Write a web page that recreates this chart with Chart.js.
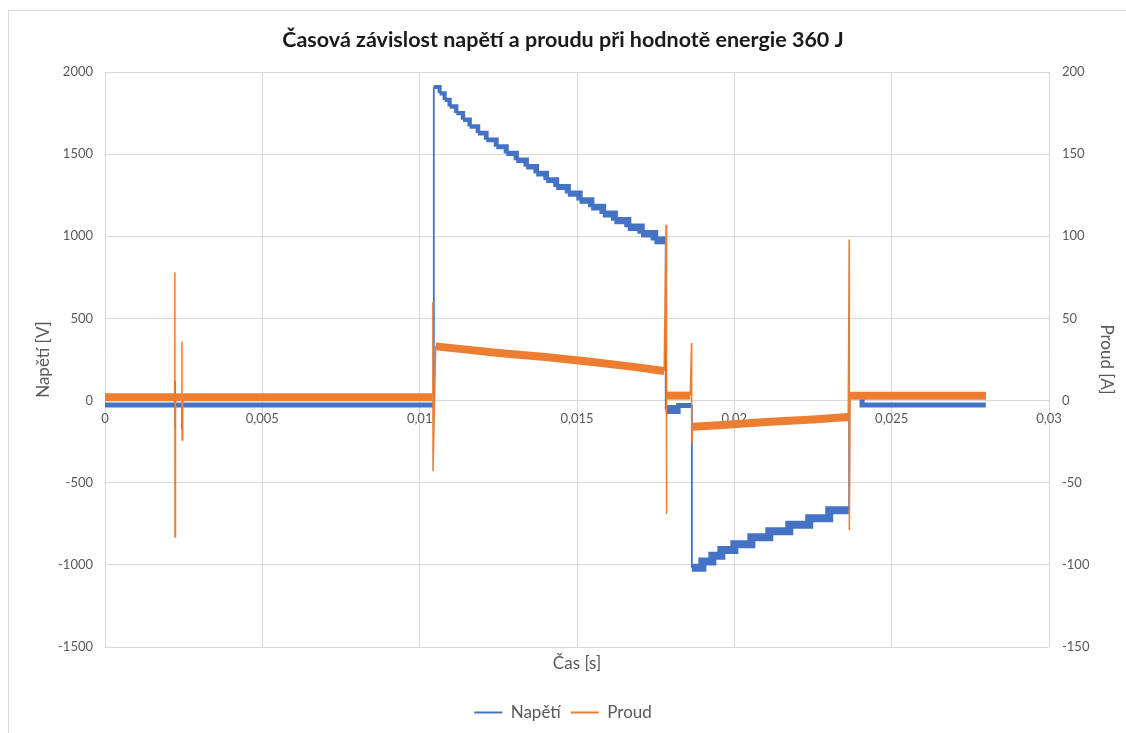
<!DOCTYPE html>
<html>
<head>
<meta charset="utf-8">
<title>Časová závislost napětí a proudu</title>
<script src="https://cdn.jsdelivr.net/npm/chart.js@4.4.1/dist/chart.umd.min.js"></script>
<style>
  html, body { margin: 0; padding: 0; background: #fff; overflow: hidden; }
  #frame { position: absolute; left: 8px; top: 10px; width: 1200px; height: 800px; border: 1px solid #d9d9d9; }
  #wrap { position: absolute; left: 0; top: 0; width: 1126px; height: 733px; }
</style>
</head>
<body>
<div id="frame"></div>
<div id="wrap"><canvas id="chart"></canvas></div>
<script>
// ===== Data =====
// Napětí [V] – stepped waveform, each point starts a new level
const casNapeti = [
    0, 0.00221, 0.00222, 0.002225, 0.00223, 0.00244, 0.002445, 0.00245,
    0.01044, 0.01045, 0.010635, 0.010794, 0.010952, 0.011164, 0.011376, 0.011587,
    0.011852, 0.012116, 0.012434, 0.012751, 0.013069, 0.013386, 0.013704, 0.014021,
    0.014339, 0.014709, 0.015079, 0.015450, 0.015820, 0.016190, 0.016614, 0.017037,
    0.017460, 0.01781, 0.01782, 0.01815, 0.01864, 0.01865, 0.018984, 0.019302,
    0.019587, 0.0200, 0.02054, 0.021111, 0.021746, 0.022381, 0.023016, 0.02364,
    0.02365, 0.02406, 0.02799
];
const napeti = [
    -27, -27, 115, -160, -27, -27, -170, -27,
    -27, 1909, 1870, 1830, 1790, 1750, 1710, 1668,
    1628, 1587, 1545, 1504, 1463, 1423, 1382, 1342,
    1300, 1260, 1218, 1177, 1136, 1095, 1055, 1015,
    975, 975, -55, -30, -30, -1018, -980, -945,
    -910, -875, -832, -795, -756, -716, -668, -668,
    32, -27, -27
];

// Proud [A]
const casProud = [
    0, 0.0022, 0.00222, 0.002225, 0.00224, 0.00243, 0.002445, 0.00245, 0.00247,
    0.0104, 0.01042, 0.010425, 0.01051, 0.0115, 0.0125, 0.014, 0.0155, 0.0168, 0.01777,
    0.01783, 0.017835, 0.01786, 0.0186, 0.01864, 0.018645, 0.01868,
    0.0195, 0.021, 0.0225, 0.02362, 0.02365, 0.023655, 0.02368, 0.028
];
const proud = [
    2, 2, 78, -83, 2, 2, 36, -24, 2,
    2, 60, -43, 33, 31, 29, 26.5, 23.5, 20.5, 18,
    107, -69, 3, 3, 35, -26, -16,
    -15, -13, -11.5, -10, 98, -79, 3, 3
];

const xTicks = { min: 0, max: 0.03, step: 0.005 };
const yTicks = { min: -1500, max: 2000, step: 500 };
const y2Ticks = { min: -150, max: 200, step: 50 };

const BLUE = '#4472C4';
const ORANGE = '#ED7D31';
const GRID = '#d9d9d9';
const TEXT = '#595959';
const FONT = "Lato, 'Open Sans', sans-serif";

// steep jumps are thin, the noisy plateaus are drawn as a thick band
const steep = (ctx) => {
    const dx = Math.abs(ctx.p1.x - ctx.p0.x);
    const dy = Math.abs(ctx.p1.y - ctx.p0.y);
    return dy > 15 && dy > dx * 2;
};

const napetiWidth = (ctx) => {
    if (steep(ctx)) return 1.8;
    const t = ctx.p0.parsed.x;
    if (t >= 0.01045 && t < 0.01782) return 4 + 4 * (t - 0.01045) / (0.01782 - 0.01045);
    if (t >= 0.01782 && t < 0.01815) return 9;
    if (t >= 0.01865 && t < 0.02365) return 8;
    return 5;
};

const proudWidth = (ctx) => steep(ctx) ? 1.5 : 8;

const fmtCas = (v) => Number(v.toFixed(3)).toString().replace('.', ',');

const ctx = document.getElementById('chart').getContext('2d');
new Chart(ctx, {
    type: 'line',
    data: {
        datasets: [
            {
                label: 'Napětí',
                data: casNapeti.map((t, i) => ({ x: t, y: napeti[i] })),
                yAxisID: 'y',
                borderColor: BLUE,
                backgroundColor: BLUE,
                borderWidth: 5,
                stepped: true,
                pointRadius: 0,
                order: 1,
                segment: { borderWidth: napetiWidth }
            },
            {
                label: 'Proud',
                data: casProud.map((t, i) => ({ x: t, y: proud[i] })),
                yAxisID: 'y2',
                borderColor: ORANGE,
                backgroundColor: ORANGE,
                borderWidth: 8,
                pointRadius: 0,
                order: 0,
                segment: { borderWidth: proudWidth }
            }
        ]
    },
    options: {
        responsive: true,
        maintainAspectRatio: false,
        animation: false,
        layout: { padding: { left: 0, right: 0, top: 0, bottom: 2 } },
        plugins: {
            title: {
                display: true,
                text: 'Časová závislost napětí a proudu při hodnotě energie 360 J',
                color: '#1a1a1a',
                font: { family: FONT, size: 21.5, weight: 'bold' },
                padding: { top: 27.1, bottom: 19.1 }
            },
            legend: {
                position: 'bottom',
                labels: {
                    color: TEXT,
                    font: { family: FONT, size: 17 },
                    boxWidth: 28,
                    boxHeight: 2,
                    padding: 10,
                    generateLabels: (chart) => Chart.defaults.plugins.legend.labels
                        .generateLabels(chart).map(l => ({ ...l, lineWidth: 0 })),
                    sort: (a, b) => a.datasetIndex - b.datasetIndex
                }
            },
            tooltip: { enabled: false }
        },
        scales: {
            x: {
                type: 'linear',
                position: { y: 0 },
                min: xTicks.min,
                max: xTicks.max,
                grid: { color: GRID, drawTicks: false },
                border: { display: false },
                ticks: {
                    stepSize: xTicks.step,
                    color: TEXT,
                    font: { family: FONT, size: 13 },
                    padding: 10,
                    maxRotation: 0,
                    callback: (v) => fmtCas(v)
                }
            },
            x2: {
                type: 'linear',
                display: true,
                position: 'bottom',
                min: xTicks.min,
                max: xTicks.max,
                grid: { display: false, drawTicks: false },
                border: { display: false },
                ticks: { display: false },
                title: {
                    display: true,
                    text: 'Čas [s]',
                    color: TEXT,
                    font: { family: FONT, size: 17 },
                    padding: { top: 0, bottom: 20 }
                },
                afterFit: (scale) => { scale.height = 47; }
            },
            y: {
                position: 'left',
                min: yTicks.min,
                max: yTicks.max,
                grid: { color: GRID, drawTicks: false },
                border: { display: false },
                ticks: {
                    stepSize: yTicks.step,
                    color: TEXT,
                    font: { family: FONT, size: 13 },
                    padding: 12,
                    callback: (v) => String(v)
                },
                title: {
                    display: true,
                    text: 'Napětí [V]',
                    color: TEXT,
                    font: { family: FONT, size: 17 },
                    padding: { top: 33, bottom: 0 }
                },
                afterFit: (scale) => { scale.width = 105; }
            },
            y2: {
                position: 'right',
                min: y2Ticks.min,
                max: y2Ticks.max,
                grid: { drawOnChartArea: false, drawTicks: false },
                border: { display: false },
                ticks: {
                    stepSize: y2Ticks.step,
                    color: TEXT,
                    font: { family: FONT, size: 13 },
                    padding: 13,
                    callback: (v) => String(v)
                },
                title: {
                    display: true,
                    text: 'Proud [A]',
                    color: TEXT,
                    font: { family: FONT, size: 17 },
                    padding: { top: 9, bottom: 0 }
                },
                afterFit: (scale) => { scale.width = 77; }
            }
        }
    }
});
</script>
</body>
</html>
